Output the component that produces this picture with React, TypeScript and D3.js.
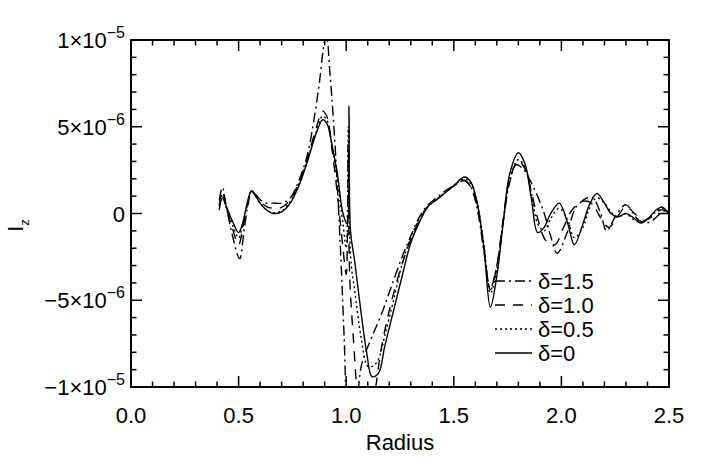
import * as React from 'react';
import * as d3 from 'd3';

// values in units of 1e-6, radius on x
const delta0: [number, number][] = [
  [0.41, 0.2], [0.425, 0.9], [0.44, 0.5], [0.47, -0.4], [0.5, -1.1], [0.52, -0.5], [0.54, 0.6], [0.56, 1.3],
  [0.58, 1.0], [0.6, 0.6], [0.63, 0.2], [0.66, 0.0], [0.7, 0.1], [0.74, 0.6], [0.78, 1.6], [0.82, 3.0],
  [0.86, 4.6], [0.89, 5.4], [0.91, 5.2], [0.935, 3.9], [0.96, 2.2], [0.985, 0.0], [1.005, -0.6], [1.013, 6.2],
  [1.02, -1.0], [1.04, -2.8], [1.07, -5.8], [1.095, -8.0], [1.12, -9.4], [1.15, -9.2], [1.18, -7.6], [1.22, -5.6],
  [1.26, -3.6], [1.3, -1.7], [1.34, -0.5], [1.38, 0.4], [1.42, 0.8], [1.46, 1.2], [1.5, 1.6], [1.55, 2.1],
  [1.58, 1.8], [1.61, 0.5], [1.64, -2.0], [1.67, -5.4], [1.7, -3.6], [1.73, -0.5], [1.76, 2.3], [1.8, 3.5],
  [1.83, 2.9], [1.86, 0.9], [1.89, -1.1], [1.92, -0.8], [1.95, 0.0], [1.99, 0.6], [2.03, -0.6], [2.06, -1.8],
  [2.1, -0.6], [2.13, 0.5], [2.165, 1.15], [2.2, 0.6], [2.23, 0.0], [2.26, -0.2], [2.3, 0.0], [2.33, -0.2],
  [2.37, -0.55], [2.41, -0.2], [2.44, 0.2], [2.47, 0.37], [2.5, -0.1],
];

const delta05: [number, number][] = [
  [0.41, 0.4], [0.425, 1.1], [0.44, 0.4], [0.47, -0.6], [0.5, -1.4], [0.52, -0.6], [0.54, 0.5], [0.56, 1.3],
  [0.58, 1.0], [0.6, 0.6], [0.63, 0.2], [0.66, 0.05], [0.7, 0.15], [0.74, 0.7], [0.78, 1.7], [0.82, 3.1],
  [0.86, 4.7], [0.89, 5.6], [0.91, 5.4], [0.935, 3.8], [0.96, 1.8], [0.985, -0.6], [1.0, -2.0], [1.01, 5.0],
  [1.016, -1.0], [1.024, -3.0], [1.04, -4.5], [1.07, -7.2], [1.1, -8.8], [1.125, -8.8], [1.15, -8.4], [1.18, -7.0],
  [1.22, -5.0], [1.26, -2.9], [1.3, -1.4], [1.34, -0.3], [1.38, 0.4], [1.42, 0.8], [1.46, 1.2], [1.5, 1.6],
  [1.55, 2.0], [1.58, 1.7], [1.61, 0.6], [1.64, -1.8], [1.67, -4.6], [1.7, -3.2], [1.73, -0.4], [1.76, 2.0],
  [1.8, 3.1], [1.83, 2.7], [1.86, 1.2], [1.89, -0.6], [1.92, -1.0], [1.95, -0.3], [1.99, 0.3], [2.03, -0.4],
  [2.06, -1.4], [2.1, -0.8], [2.13, 0.3], [2.165, 0.9], [2.2, 0.6], [2.23, 0.1], [2.26, -0.2], [2.3, 0.0],
  [2.33, -0.3], [2.37, -0.5], [2.41, -0.2], [2.44, 0.1], [2.47, 0.3], [2.5, 0.0],
];

const delta10: [number, number][] = [
  [0.41, 0.5], [0.425, 1.3], [0.44, 0.5], [0.47, -0.8], [0.5, -1.8], [0.52, -0.8], [0.54, 0.5], [0.56, 1.3],
  [0.58, 1.0], [0.6, 0.7], [0.63, 0.4], [0.66, 0.3], [0.7, 0.35], [0.74, 0.8], [0.78, 1.8], [0.82, 3.2],
  [0.86, 4.9], [0.89, 5.9], [0.91, 5.6], [0.935, 3.6], [0.96, 1.0], [0.985, -2.0], [1.0, -3.5], [1.009, 4.0],
  [1.016, -3.5], [1.035, -7.5], [1.055, -10.8], [1.08, -12.5], [1.11, -12.0], [1.135, -10.2], [1.16, -8.0], [1.2, -5.6],
  [1.25, -3.3], [1.3, -1.5], [1.34, -0.4], [1.38, 0.4], [1.42, 0.8], [1.46, 1.2], [1.5, 1.6], [1.55, 1.9],
  [1.58, 1.5], [1.61, 0.3], [1.64, -2.0], [1.67, -4.4], [1.7, -3.0], [1.73, -0.3], [1.76, 2.0], [1.8, 3.0],
  [1.83, 2.6], [1.86, 1.3], [1.89, -0.3], [1.93, -1.6], [1.97, -1.8], [2.01, -0.8], [2.05, 0.2], [2.1, 0.7],
  [2.14, 0.6], [2.18, -0.2], [2.22, -0.8], [2.26, -0.2], [2.3, 0.4], [2.34, 0.0], [2.38, -0.4], [2.42, -0.2],
  [2.46, 0.2], [2.5, 0.1],
];

const delta15: [number, number][] = [
  [0.41, 0.8], [0.425, 1.5], [0.44, 0.6], [0.47, -1.2], [0.505, -2.6], [0.525, -1.0], [0.545, 0.6], [0.56, 1.3],
  [0.58, 1.1], [0.6, 0.8], [0.63, 0.6], [0.66, 0.6], [0.7, 0.6], [0.74, 0.9], [0.78, 1.9], [0.82, 3.4],
  [0.85, 5.4], [0.875, 7.5], [0.895, 9.6], [0.908, 10.3], [0.925, 8.0], [0.94, 5.5], [0.955, 2.5], [0.975, -2.5],
  [0.99, -7.0], [1.005, -11.5], [1.03, -13.5], [1.05, -11.0], [1.07, -8.8], [1.09, -8.0], [1.12, -7.1], [1.17, -5.6],
  [1.21, -4.2], [1.26, -2.5], [1.3, -1.3], [1.34, -0.2], [1.38, 0.5], [1.42, 0.9], [1.46, 1.3], [1.5, 1.6],
  [1.55, 1.9], [1.58, 1.5], [1.61, 0.2], [1.64, -2.2], [1.67, -4.3], [1.7, -3.0], [1.73, -0.4], [1.76, 1.8],
  [1.79, 2.8], [1.82, 2.6], [1.855, 1.9], [1.915, 0.2], [1.95, -1.3], [1.98, -2.3], [2.03, -1.0], [2.07, 0.4],
  [2.14, 0.95], [2.18, 0.1], [2.21, -1.0], [2.25, -0.2], [2.3, 0.5], [2.36, -0.4], [2.41, -0.5], [2.47, 0.1],
  [2.5, 0.2],
];

const xMajor = [0, 0.5, 1.0, 1.5, 2.0, 2.5];
const xLabels = ['0.0', '0.5', '1.0', '1.5', '2.0', '2.5'];
const yMajor = [-10, -5, 0, 5, 10];
const yMant = ['\u22121\u00d710', '\u22125\u00d710', '0', '5\u00d710', '1\u00d710'];
const yExp = ['\u22125', '\u22126', '', '\u22126', '\u22125'];

const legendLabels = ['\u03b4=1.5', '\u03b4=1.0', '\u03b4=0.5', '\u03b4=0'];

const W = 708;
const H = 471;
const left = 131;
const right = 669;
const top = 40;
const bottom = 387;
const font = '"Liberation Sans", Arial, sans-serif';

export default function App() {
  React.useEffect(() => {
    document.body.style.margin = '0';
  }, []);

  const x = d3.scaleLinear().domain([0, 2.5]).range([left, right]);
  const y = d3.scaleLinear().domain([-10, 10]).range([bottom, top]);

  const line = d3
    .line<[number, number]>()
    .x((d) => x(d[0]))
    .y((d) => y(d[1]))
    .curve(d3.curveCatmullRom.alpha(0.5));

  const series = [
    { data: delta15, dash: '10,4,2,4' },
    { data: delta10, dash: '10,8' },
    { data: delta05, dash: '2,3' },
    { data: delta0, dash: null as string | null },
  ];

  const xMinor = d3.range(0, 26).map((i) => i / 10).filter((v) => Math.abs(v * 2 - Math.round(v * 2)) > 1e-6);
  const yMinor = d3.range(-10, 11).filter((v) => v % 5 !== 0);

  const major = 11;
  const minor = 5.5;

  return (
    <svg width={W} height={H} style={{ display: 'block', background: '#fff' }} fontFamily={font}>
      <defs>
        <clipPath id="plot">
          <rect x={left} y={top} width={right - left} height={bottom - top} />
        </clipPath>
      </defs>

      {/* curves */}
      <g clipPath="url(#plot)" fill="none" stroke="#000" strokeWidth={1.4}>
        {series.map((s, i) => (
          <path key={i} d={line(s.data) || ''} strokeDasharray={s.dash || undefined} />
        ))}
      </g>

      {/* frame + ticks */}
      <rect x={left} y={top} width={right - left} height={bottom - top} fill="none" stroke="#000" strokeWidth={2} />
      <g stroke="#000" strokeWidth={1.5}>
        {xMajor.map((v) => (
          <g key={'xM' + v}>
            <line x1={x(v)} x2={x(v)} y1={bottom} y2={bottom - major} />
            <line x1={x(v)} x2={x(v)} y1={top} y2={top + major} />
          </g>
        ))}
        {xMinor.map((v) => (
          <g key={'xm' + v}>
            <line x1={x(v)} x2={x(v)} y1={bottom} y2={bottom - minor} />
            <line x1={x(v)} x2={x(v)} y1={top} y2={top + minor} />
          </g>
        ))}
        {yMajor.map((v) => (
          <g key={'yM' + v}>
            <line x1={left} x2={left + major} y1={y(v)} y2={y(v)} />
            <line x1={right} x2={right - major} y1={y(v)} y2={y(v)} />
          </g>
        ))}
        {yMinor.map((v) => (
          <g key={'ym' + v}>
            <line x1={left} x2={left + minor} y1={y(v)} y2={y(v)} />
            <line x1={right} x2={right - minor} y1={y(v)} y2={y(v)} />
          </g>
        ))}
      </g>

      {/* x tick labels */}
      <g fontSize={22} textAnchor="middle" fill="#000">
        {xMajor.map((v, i) => (
          <text key={v} x={x(v)} y={bottom + 36}>
            {xLabels[i]}
          </text>
        ))}
      </g>
      <text x={(left + right) / 2} y={bottom + 63} fontSize={22} textAnchor="middle">
        Radius
      </text>

      {/* y tick labels */}
      <g fontSize={22} textAnchor="end" fill="#000">
        {yMajor.map((v, i) => (
          <text key={v} x={left - 6} y={y(v) + 8}>
            {yMant[i]}
            {yExp[i] && (
              <tspan fontSize={16} dy={-10}>
                {yExp[i]}
              </tspan>
            )}
          </text>
        ))}
      </g>

      {/* y title */}
      <text transform={`translate(23, ${(top + bottom) / 2 + 12}) rotate(-90)`} fontSize={22} textAnchor="middle">
        I
        <tspan fontSize={13} dy={6}>
          z
        </tspan>
      </text>

      {/* legend */}
      <g>
        {series.map((s, i) => {
          const ly = 281 + i * 24;
          return (
            <g key={i}>
              <line x1={495} x2={532} y1={ly} y2={ly} stroke="#000" strokeWidth={1.6} strokeDasharray={s.dash || undefined} />
              <text x={538} y={ly + 8} fontSize={22}>
                {legendLabels[i]}
              </text>
            </g>
          );
        })}
      </g>
    </svg>
  );
}
